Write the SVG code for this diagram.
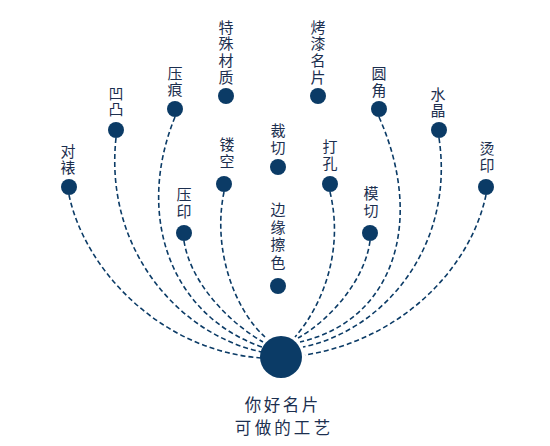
<svg xmlns="http://www.w3.org/2000/svg" width="550" height="446" viewBox="0 0 550 446">
<style>
.dot{fill:#0b3b66;}
.lbl{font-family:"Noto Sans CJK SC","Noto Sans CJK JP",sans-serif;font-size:15px;fill:#1c2f4f;text-anchor:middle;dominant-baseline:central;}
.big{font-family:"Noto Sans CJK SC","Noto Sans CJK JP",sans-serif;font-size:16.5px;fill:#1c2f4f;text-anchor:middle;dominant-baseline:central;}
.con path{fill:none;stroke:#0b3b66;stroke-width:1.6;stroke-dasharray:5 3;}
</style>
<rect width="550" height="446" fill="#ffffff"/>
<g id="connectors" class="con">
<path d="M69,195 C85,270 160,350 261,358"/>
<path d="M116,138 C104,250 180,335 262,352"/>
<path d="M175,117 C135,215 170,315 262,347"/>
<path d="M184,241 C190,280 225,320 263,342"/>
<path d="M224,192 C212,250 235,310 265,337"/>
<path d="M330,192 C344,250 323,305 295,337"/>
<path d="M370,241 C365,280 330,320 298,338"/>
<path d="M379,117 C425,220 395,320 300,342"/>
<path d="M439,138 C455,245 385,330 303,347"/>
<path d="M486,195 C470,270 400,340 305,355"/>
</g>
<g id="node-duibiao"><circle class="dot" cx="69" cy="187" r="8"/><text class="lbl" x="68 68" y="150 166">对裱</text></g>
<g id="node-aotu"><circle class="dot" cx="116" cy="130" r="8"/><text class="lbl" x="116 116" y="92 108">凹凸</text></g>
<g id="node-yahen"><circle class="dot" cx="175" cy="109" r="8"/><text class="lbl" x="175 175" y="72 88">压痕</text></g>
<g id="node-teshucaizhi"><circle class="dot" cx="226" cy="96" r="8"/><text class="lbl" x="226 226 226 226" y="26 42 59 76">特殊材质</text></g>
<g id="node-loukong"><circle class="dot" cx="224" cy="184" r="8"/><text class="lbl" x="227 227" y="143 160">镂空</text></g>
<g id="node-yayin"><circle class="dot" cx="184" cy="233" r="8"/><text class="lbl" x="184 184" y="193 210">压印</text></g>
<g id="node-caiqie"><circle class="dot" cx="278" cy="167" r="8"/><text class="lbl" x="278 278" y="129 146">裁切</text></g>
<g id="node-bianyuancase"><circle class="dot" cx="278" cy="286" r="8"/><text class="lbl" x="278 278 278 278" y="208 226 243 261">边缘擦色</text></g>
<g id="node-dakong"><circle class="dot" cx="330" cy="184" r="8"/><text class="lbl" x="330 330" y="145 162">打孔</text></g>
<g id="node-moqie"><circle class="dot" cx="370" cy="233" r="8"/><text class="lbl" x="371 371" y="192 209">模切</text></g>
<g id="node-kaoqi"><circle class="dot" cx="318" cy="96" r="8"/><text class="lbl" x="318 318 318 318" y="26 42 59 76">烤漆名片</text></g>
<g id="node-yuanjiao"><circle class="dot" cx="379" cy="109" r="8"/><text class="lbl" x="379 379" y="72 89">圆角</text></g>
<g id="node-shuijing"><circle class="dot" cx="439" cy="130" r="8"/><text class="lbl" x="438 438" y="93 109">水晶</text></g>
<g id="node-tangyin"><circle class="dot" cx="486" cy="187" r="8"/><text class="lbl" x="487 487" y="147 164">烫印</text></g>
<g id="node-hub"><circle class="dot" cx="281" cy="357" r="21"/>
<text class="big" x="253 272 291 310" y="404">你好名片</text>
<text class="big" x="243 263 282.5 302 322" y="427">可做的工艺</text>
</g>
</svg>
